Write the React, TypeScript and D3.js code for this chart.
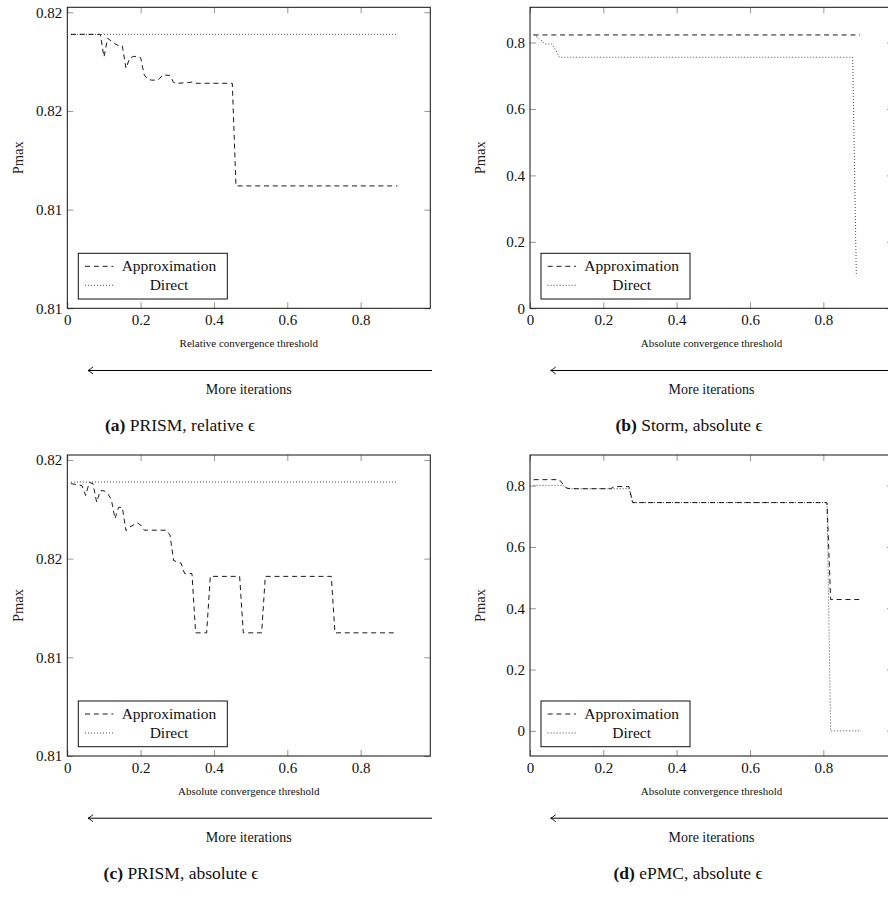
import React, { useEffect, useRef } from 'react';
import * as d3 from 'd3';

type Pt = [number, number];

const xTicks = [0, 0.2, 0.4, 0.6, 0.8];
const xTickLabels = ['0', '0.2', '0.4', '0.6', '0.8'];
const fineYTicks = [0.81, 0.8125, 0.815, 0.8175];
const fineYTickLabels = ['0.81', '0.81', '0.82', '0.82'];
const coarseYTicks = [0, 0.2, 0.4, 0.6, 0.8];
const coarseYTickLabels = ['0', '0.2', '0.4', '0.6', '0.8'];

// (a) PRISM, relative epsilon
const approxA: Pt[] = [
  [0.01, 0.81694], [0.09, 0.81694], [0.10, 0.81637], [0.11, 0.81684], [0.12, 0.81677],
  [0.13, 0.8167], [0.14, 0.81665], [0.15, 0.81665], [0.16, 0.81608], [0.17, 0.81633],
  [0.18, 0.81638], [0.19, 0.81638], [0.20, 0.81635], [0.21, 0.81591], [0.22, 0.8158],
  [0.23, 0.81578], [0.24, 0.81578], [0.25, 0.8158], [0.26, 0.81591], [0.28, 0.8159],
  [0.29, 0.81572], [0.30, 0.8157], [0.33, 0.81572], [0.34, 0.81573], [0.35, 0.8157],
  [0.45, 0.8157], [0.46, 0.8131], [0.90, 0.8131],
];
const directA: Pt[] = [[0.01, 0.81694], [0.90, 0.81694]];

// (b) Storm, absolute epsilon
const approxB: Pt[] = [[0.01, 0.8228], [0.90, 0.8228]];
const directB: Pt[] = [
  [0.01, 0.8228], [0.02, 0.8158], [0.03, 0.8077], [0.04, 0.7956], [0.06, 0.7956],
  [0.07, 0.7776], [0.08, 0.7556], [0.88, 0.7556], [0.89, 0.097],
];

// (c) PRISM, absolute epsilon
const approxC: Pt[] = [
  [0.01, 0.8169], [0.04, 0.81685], [0.05, 0.8166], [0.06, 0.81693], [0.07, 0.8169],
  [0.08, 0.81643], [0.09, 0.81672], [0.10, 0.81672], [0.11, 0.81665], [0.12, 0.8165],
  [0.13, 0.81601], [0.14, 0.8163], [0.15, 0.8163], [0.16, 0.81571], [0.17, 0.8158],
  [0.18, 0.81585], [0.19, 0.81591], [0.20, 0.81585], [0.21, 0.81572], [0.27, 0.81572],
  [0.28, 0.8156], [0.29, 0.81495], [0.31, 0.81489], [0.32, 0.81462], [0.34, 0.81462],
  [0.35, 0.81312], [0.38, 0.81312], [0.39, 0.81455], [0.47, 0.81455], [0.48, 0.81312],
  [0.53, 0.81312], [0.54, 0.81455], [0.72, 0.81455], [0.73, 0.81312], [0.90, 0.81312],
];
const directC: Pt[] = [[0.01, 0.81694], [0.90, 0.81694]];

// (d) ePMC, absolute epsilon
const approxD: Pt[] = [
  [0.01, 0.8196], [0.08, 0.8196], [0.09, 0.805], [0.10, 0.792], [0.11, 0.79],
  [0.22, 0.79], [0.23, 0.797], [0.27, 0.797], [0.28, 0.7447], [0.81, 0.7447],
  [0.82, 0.4285], [0.90, 0.4285],
];
const directD: Pt[] = [
  [0.01, 0.801], [0.09, 0.801], [0.10, 0.792], [0.11, 0.79], [0.27, 0.79],
  [0.28, 0.7447], [0.81, 0.7447], [0.82, 0], [0.90, 0],
];

const xDomain = [0, 0.99];
const plotW = 363;
const plotH = 301;
const FONT = "'Liberation Serif', 'DejaVu Serif', serif";

interface PanelDef {
  left: number;
  top: number;
  yDomain: number[];
  yTicks: number[];
  yLabels: string[];
  approx: Pt[];
  direct: Pt[];
  xLabel: string;
  tag: string;
  caption: string;
  captionX: number;
}

const panels: PanelDef[] = [
  { left: 67.3, top: 7.3, yDomain: [0.81, 0.817625], yTicks: fineYTicks, yLabels: fineYTickLabels,
    approx: approxA, direct: directA, xLabel: 'Relative convergence threshold',
    tag: '(a)', caption: 'PRISM, relative ϵ', captionX: 180 },
  { left: 530, top: 7.3, yDomain: [0, 0.906], yTicks: coarseYTicks, yLabels: coarseYTickLabels,
    approx: approxB, direct: directB, xLabel: 'Absolute convergence threshold',
    tag: '(b)', caption: 'Storm, absolute ϵ', captionX: 689 },
  { left: 67.3, top: 455, yDomain: [0.81, 0.817625], yTicks: fineYTicks, yLabels: fineYTickLabels,
    approx: approxC, direct: directC, xLabel: 'Absolute convergence threshold',
    tag: '(c)', caption: 'PRISM, absolute ϵ', captionX: 181 },
  { left: 530, top: 455, yDomain: [-0.082, 0.9], yTicks: coarseYTicks, yLabels: coarseYTickLabels,
    approx: approxD, direct: directD, xLabel: 'Absolute convergence threshold',
    tag: '(d)', caption: 'ePMC, absolute ϵ', captionX: 688 },
];

const DASH = '5,3.8';
const DOT = '0.8,2.2';

function drawPanel(svg: d3.Selection<SVGSVGElement, unknown, null, undefined>, p: PanelDef) {
  const bottom = p.top + plotH;
  const right = p.left + plotW;
  const x = d3.scaleLinear().domain(xDomain).range([p.left, right]);
  const y = d3.scaleLinear().domain(p.yDomain).range([bottom, p.top]);
  const g = svg.append('g');

  const styleAxis = (a: d3.Selection<SVGGElement, unknown, null, undefined>) => {
    a.attr('font-family', FONT).attr('font-size', 15);
    a.select('.domain').remove();
    a.selectAll('line').attr('stroke', '#8a8a8a').attr('stroke-width', 0.9);
    a.selectAll('text').attr('fill', '#111');
  };

  g.append('g').attr('transform', `translate(0,${bottom})`)
    .call(d3.axisBottom(x).tickValues(xTicks).tickFormat((_d, i) => xTickLabels[i])
      .tickSizeInner(-6).tickSizeOuter(0).tickPadding(6))
    .call(styleAxis);
  g.append('g').attr('transform', `translate(0,${p.top})`)
    .call(d3.axisTop(x).tickValues(xTicks).tickFormat(() => '').tickSizeInner(-6).tickSizeOuter(0))
    .call(styleAxis);
  g.append('g').attr('transform', `translate(${p.left},0)`)
    .call(d3.axisLeft(y).tickValues(p.yTicks).tickFormat((_d, i) => p.yLabels[i])
      .tickSizeInner(-6).tickSizeOuter(0).tickPadding(5))
    .call(styleAxis);
  g.append('g').attr('transform', `translate(${right},0)`)
    .call(d3.axisRight(y).tickValues(p.yTicks).tickFormat(() => '').tickSizeInner(-6).tickSizeOuter(0))
    .call(styleAxis);

  const line = d3.line<Pt>().x(d => x(d[0])).y(d => y(d[1]));
  g.append('path').attr('d', line(p.approx)).attr('fill', 'none')
    .attr('stroke', '#000').attr('stroke-width', 0.9).attr('stroke-dasharray', DASH);
  g.append('path').attr('d', line(p.direct)).attr('fill', 'none')
    .attr('stroke', '#000').attr('stroke-width', 0.9).attr('stroke-dasharray', DOT);

  g.append('rect').attr('x', p.left).attr('y', p.top).attr('width', plotW).attr('height', plotH)
    .attr('fill', 'none').attr('stroke', '#111').attr('stroke-width', 1);

  // y label
  g.append('text')
    .attr('transform', `translate(${p.left - 49.6},${p.top + plotH / 2}) rotate(-90)`)
    .attr('text-anchor', 'middle').attr('dy', '0.35em')
    .attr('font-family', FONT).attr('font-size', 14.5).attr('fill', '#222')
    .text('Pmax');

  // legend
  const lx = p.left + 11;
  const ly = bottom - 55;
  const lg = g.append('g');
  lg.append('rect').attr('x', lx).attr('y', ly).attr('width', 149).attr('height', 45.7)
    .attr('fill', '#fff').attr('stroke', '#111').attr('stroke-width', 1);
  const rows = [
    { name: 'Approximation', dash: DASH, dy: 13 },
    { name: 'Direct', dash: DOT, dy: 32 },
  ];
  rows.forEach(r => {
    lg.append('line').attr('x1', lx + 6.7).attr('x2', lx + 35).attr('y1', ly + r.dy).attr('y2', ly + r.dy)
      .attr('stroke', '#000').attr('stroke-width', 0.9).attr('stroke-dasharray', r.dash);
    lg.append('text').attr('x', lx + 90.7).attr('y', ly + r.dy + 4.6)
      .attr('text-anchor', 'middle').attr('font-family', FONT).attr('font-size', 15.5)
      .attr('fill', '#111').text(r.name);
  });

  // x label
  g.append('text').attr('x', p.left + plotW / 2).attr('y', bottom + 38.5)
    .attr('text-anchor', 'middle').attr('font-family', FONT).attr('font-size', 11)
    .attr('fill', '#111').text(p.xLabel);

  // arrow
  const ay = bottom + 62.2;
  const ax0 = p.left + 20.7;
  const ax1 = p.left + 364.7;
  g.append('line').attr('x1', ax0).attr('x2', ax1).attr('y1', ay).attr('y2', ay)
    .attr('stroke', '#000').attr('stroke-width', 1);
  g.append('path')
    .attr('d', `M${ax0 + 5},${ay - 3.5} Q${ax0 + 1.5},${ay - 0.6} ${ax0},${ay} Q${ax0 + 1.5},${ay + 0.6} ${ax0 + 5},${ay + 3.5}`)
    .attr('fill', 'none').attr('stroke', '#000').attr('stroke-width', 0.9);
  g.append('text').attr('x', p.left + plotW / 2).attr('y', bottom + 85.5)
    .attr('text-anchor', 'middle').attr('font-family', FONT).attr('font-size', 14)
    .attr('fill', '#111').text('More iterations');

  // caption
  const cap = g.append('text').attr('x', p.captionX).attr('y', bottom + 122.5)
    .attr('text-anchor', 'middle').attr('font-family', FONT).attr('font-size', 17.5)
    .attr('fill', '#111');
  cap.append('tspan').attr('font-weight', 'bold').text(p.tag);
  cap.append('tspan').text(' ' + p.caption);
}

const App = () => {
  const svgRef = useRef<SVGSVGElement>(null);

  useEffect(() => {
    const svg = d3.select(svgRef.current as SVGSVGElement);
    svg.selectAll('*').remove();
    panels.forEach(p => drawPanel(svg, p));
  }, []);

  return (
    <svg ref={svgRef} width={888} height={897}
      style={{ position: 'absolute', left: 0, top: 0, background: '#fff' }} />
  );
};

export default App;
